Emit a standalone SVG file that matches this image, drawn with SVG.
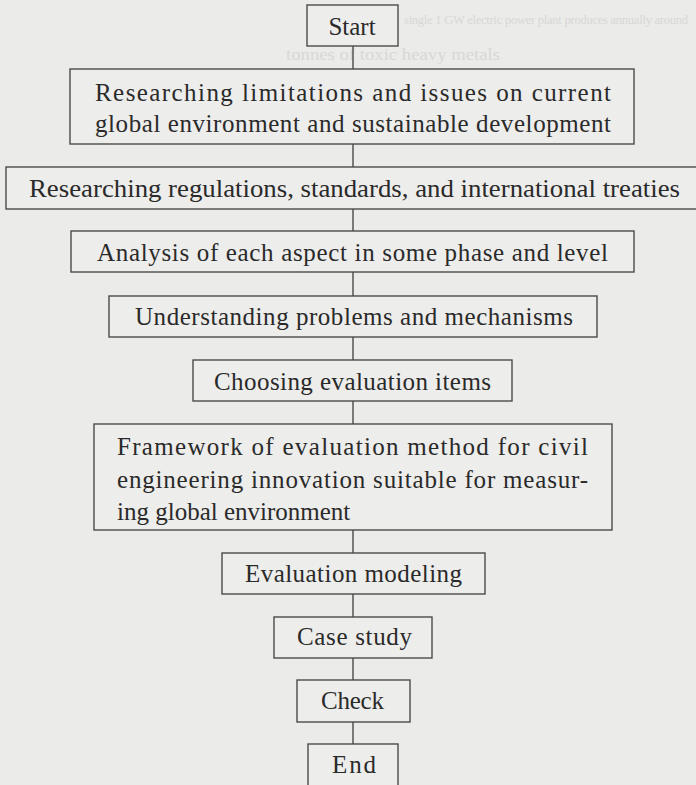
<svg xmlns="http://www.w3.org/2000/svg" width="696" height="785" viewBox="0 0 696 785">
<style>
.bg{fill:#ebebe9}
.box{fill:#ededeb;stroke:#4a4a4a;stroke-width:1.4}
.t{font-family:"Liberation Serif","DejaVu Serif",serif;font-size:25px;fill:#2a2a2a}
.c{text-anchor:middle}
.ghost{font-family:"Liberation Serif",serif;fill:#d8d8d5}
.conn line{stroke:#4a4a4a;stroke-width:1.4}
</style>
<rect class="bg" x="0" y="0" width="696" height="785"/>
<g id="ghost">
<text class="ghost" x="404" y="24" font-size="12.5" textLength="284" lengthAdjust="spacing">single 1 GW electric power plant produces annually around</text>
<text class="ghost" x="286" y="60" font-size="16" textLength="214" lengthAdjust="spacingAndGlyphs">tonnes of toxic heavy metals</text>
</g>
<g class="conn" id="connectors">
<line x1="353" y1="46" x2="353" y2="69"/>
<line x1="353" y1="144" x2="353" y2="167"/>
<line x1="353" y1="209" x2="353" y2="231"/>
<line x1="353" y1="272" x2="353" y2="296"/>
<line x1="353" y1="337" x2="353" y2="360"/>
<line x1="353" y1="401" x2="353" y2="424"/>
<line x1="353" y1="530" x2="353" y2="553"/>
<line x1="353" y1="594" x2="353" y2="617"/>
<line x1="353" y1="658" x2="353" y2="680"/>
<line x1="353" y1="722" x2="353" y2="744"/>
</g>
<g id="start"><rect class="box" x="307" y="5" width="91" height="41"/><text class="t c" x="352" y="35">Start</text></g>
<g id="n1"><rect class="box" x="70" y="69" width="564" height="75"/>
<text class="t" x="95" y="101" textLength="516" lengthAdjust="spacing">Researching limitations and issues on current</text>
<text class="t" x="95" y="132" textLength="516" lengthAdjust="spacing">global environment and sustainable development</text></g>
<g id="n2"><rect class="box" x="6" y="167" width="700" height="42"/>
<text class="t" x="29" y="197" textLength="651" lengthAdjust="spacingAndGlyphs">Researching regulations, standards, and international treaties</text></g>
<g id="n3"><rect class="box" x="71" y="231" width="563" height="41"/>
<text class="t" x="97" y="261" textLength="511" lengthAdjust="spacing">Analysis of each aspect in some phase and level</text></g>
<g id="n4"><rect class="box" x="109" y="296" width="488" height="41"/>
<text class="t" x="135" y="325" textLength="438" lengthAdjust="spacing">Understanding problems and mechanisms</text></g>
<g id="n5"><rect class="box" x="193" y="360" width="319" height="41"/>
<text class="t" x="214" y="390" textLength="277" lengthAdjust="spacing">Choosing evaluation items</text></g>
<g id="n6"><rect class="box" x="94" y="424" width="518" height="106"/>
<text class="t" x="117" y="455" textLength="471" lengthAdjust="spacing">Framework of evaluation method for civil</text>
<text class="t" x="117" y="488" textLength="471" lengthAdjust="spacing">engineering innovation suitable for measur-</text>
<text class="t" x="117" y="520">ing global environment</text></g>
<g id="n7"><rect class="box" x="222" y="553" width="263" height="41"/>
<text class="t" x="245" y="582" textLength="217" lengthAdjust="spacing">Evaluation modeling</text></g>
<g id="n8"><rect class="box" x="274" y="617" width="158" height="41"/>
<text class="t" x="297" y="645" textLength="115" lengthAdjust="spacing">Case study</text></g>
<g id="n9"><rect class="box" x="297" y="680" width="113" height="42"/>
<text class="t" x="321" y="709" textLength="63" lengthAdjust="spacing">Check</text></g>
<g id="end"><rect class="box" x="308" y="744" width="90" height="50"/>
<text class="t" x="332" y="773" textLength="44" lengthAdjust="spacing">End</text></g>
</svg>
